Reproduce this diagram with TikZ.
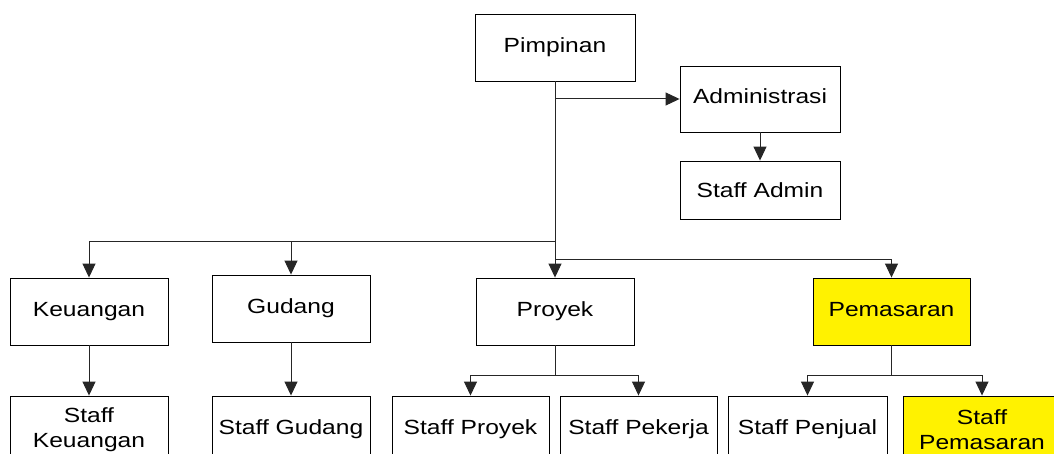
\documentclass[tikz,border=0pt]{standalone}
\usepackage{fontspec}
\setmainfont{Liberation Sans}[FakeStretch=1.2]
\usetikzlibrary{arrows.meta,calc}
\begin{document}
\begin{tikzpicture}[x=1pt,y=-1pt,
  box/.style={draw=black,line width=0.9pt,fill=white,inner sep=0pt,minimum height=67pt,
    font=\fontsize{20.5}{25}\selectfont,align=center},
  one/.style={text height=15pt,text depth=5.5pt},
  hl/.style={fill=yellow},
  conn/.style={draw=black!85,line width=1pt},
  arr/.style={conn,-{Triangle[length=14pt,width=13pt]}}]
\useasboundingbox (0,0) rectangle (1054,454);
\clip (0,0) rectangle (1054,454);
\fill[white] (0,0) rectangle (1054,454);
% nodes
\node[box,one,minimum width=160pt] (pim) at (555,47.5) {Pimpinan};
\node[box,one,minimum width=160pt,minimum height=66pt] (adm) at (760,99) {Administrasi};
\node[box,minimum width=160pt,minimum height=58pt,text height=17pt,text depth=2pt] (sad) at (760,190) {Staff Admin};
\node[box,one,minimum width=158pt] (keu) at (89,311.5) {Keuangan};
\node[box,one,minimum width=158pt] (gud) at (291,308.5) {Gudang};
\node[box,one,minimum width=158pt] (pro) at (555,311.5) {Proyek};
\node[box,one,hl,minimum width=157pt] (pem) at (891.5,311.5) {Pemasaran};
\node[box,minimum width=158pt] (skeu) at (89,429.5) {Staff\\Keuangan};
\node[box,one,minimum width=158pt] (sgud) at (291,429.5) {Staff Gudang};
\node[box,one,minimum width=157pt] (spr) at (470.5,429.5) {Staff Proyek};
\node[box,one,minimum width=157pt] (spk) at (638.5,429.5) {Staff Pekerja};
\node[box,one,minimum width=159pt] (spj) at (807.5,429.5) {Staff Penjual};
\node[box,hl,minimum width=158pt] (spm) at (982,429.5) {Staff\\Pemasaran};
% junctions
\coordinate (busL) at (555,242);
\coordinate (busR) at (555,260);
\coordinate (pb) at (555,375);
\coordinate (mb) at (891.5,375);
% connectors
\draw[arr] (pim.south) -- (pro.north);
\draw[arr] (pim.south |- adm.west) -- (adm.west);
\draw[arr] (adm.south) -- (sad.north);
\draw[arr] (busL) -| (keu.north);
\draw[arr] (busL -| gud.north) -- (gud.north);
\draw[arr] (busR) -| (pem.north);
\draw[arr] (keu.south) -- (skeu.north);
\draw[arr] (gud.south) -- (sgud.north);
\draw[conn] (pro.south) -- (pb);
\draw[arr] (pb) -| (spr.north);
\draw[arr] (pb) -| (spk.north);
\draw[conn] (pem.south) -- (mb);
\draw[arr] (mb) -| (spj.north);
\draw[arr] (mb) -| (spm.north);
\end{tikzpicture}
\end{document}
